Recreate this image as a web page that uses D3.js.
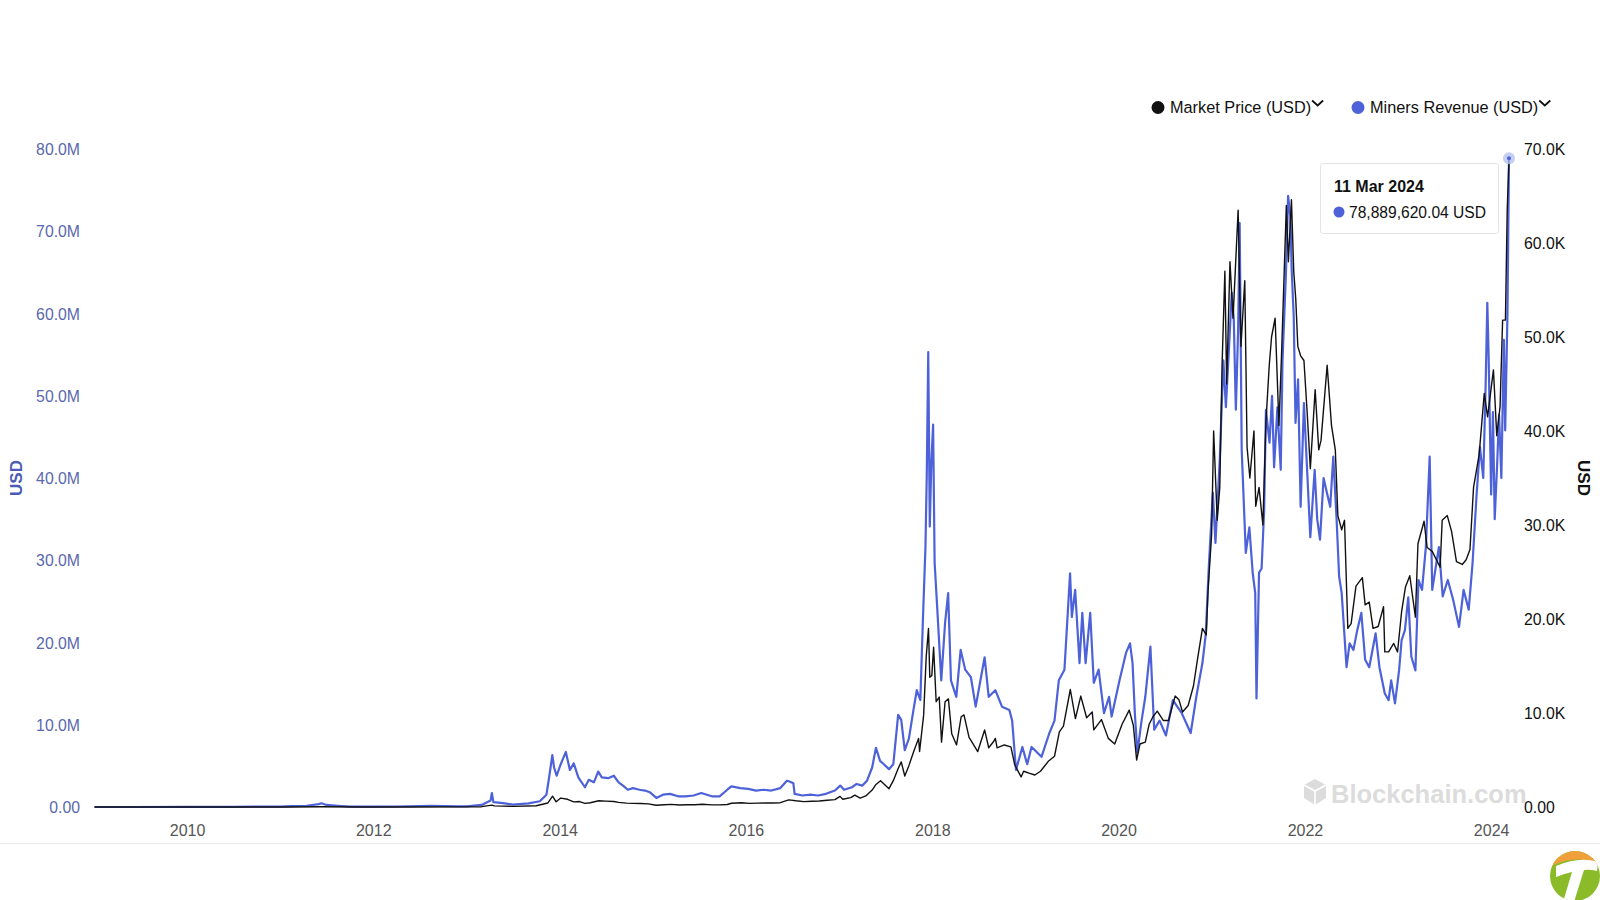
<!DOCTYPE html>
<html>
<head>
<meta charset="utf-8">
<script src="https://cdn.jsdelivr.net/npm/d3@7"></script>
<style>
  html, body { margin: 0; padding: 0; background: #ffffff; }
  svg { display: block; font-family: "Liberation Sans", Arial, Helvetica, sans-serif; }
</style>
</head>
<body>
<svg id="chart" width="1600" height="900"></svg>
<script>
// ---- DATA ----
// Miners Revenue, millions of USD per day
const minersRevenue = [
  ["2009-01-03",0],["2009-06-01",0],["2010-01-01",0.01],["2010-07-01",0.02],["2010-11-01",0.05],
  ["2011-01-01",0.05],["2011-02-15",0.1],["2011-04-15",0.15],["2011-06-01",0.35],["2011-06-12",0.45],
  ["2011-07-01",0.25],["2011-08-15",0.15],["2011-10-01",0.05],["2012-01-01",0.05],["2012-04-01",0.06],
  ["2012-08-15",0.15],["2012-11-28",0.08],["2013-01-01",0.07],["2013-03-01",0.25],["2013-04-05",0.8],
  ["2013-04-10",1.7],["2013-04-16",0.6],["2013-05-15",0.5],["2013-07-01",0.3],["2013-09-01",0.45],
  ["2013-10-15",0.7],["2013-11-10",1.5],["2013-11-20",3.5],["2013-12-03",6.3],["2013-12-10",4.8],
  ["2013-12-20",3.8],["2014-01-05",5.2],["2014-01-25",6.7],["2014-02-10",4.5],["2014-02-25",5.3],
  ["2014-03-15",3.6],["2014-04-10",2.4],["2014-04-25",3.3],["2014-05-15",3.0],["2014-06-01",4.3],
  ["2014-06-15",3.6],["2014-07-10",3.5],["2014-08-01",3.8],["2014-08-20",3.0],["2014-09-10",2.5],
  ["2014-09-25",2.1],["2014-10-15",2.3],["2014-11-10",2.1],["2014-12-01",2.0],["2014-12-20",1.8],
  ["2015-01-15",1.1],["2015-02-10",1.5],["2015-03-10",1.6],["2015-04-10",1.3],["2015-05-10",1.3],
  ["2015-06-10",1.4],["2015-07-10",1.7],["2015-08-20",1.3],["2015-09-20",1.3],["2015-10-20",2.1],
  ["2015-11-05",2.5],["2015-12-10",2.3],["2016-01-10",2.2],["2016-02-10",2.0],["2016-03-10",2.1],
  ["2016-04-10",2.0],["2016-05-15",2.3],["2016-06-10",3.2],["2016-06-20",3.1],["2016-07-05",2.9],
  ["2016-07-10",1.6],["2016-08-10",1.4],["2016-09-10",1.5],["2016-10-10",1.4],["2016-11-10",1.6],
  ["2016-12-15",2.0],["2017-01-05",2.6],["2017-01-20",2.1],["2017-02-20",2.4],["2017-03-10",2.8],
  ["2017-04-01",2.6],["2017-04-20",3.2],["2017-05-10",4.8],["2017-05-25",7.2],["2017-06-10",5.6],
  ["2017-06-25",5.2],["2017-07-15",4.6],["2017-08-01",5.2],["2017-08-20",11.2],["2017-09-01",10.6],
  ["2017-09-15",6.9],["2017-10-01",8.3],["2017-10-20",12.0],["2017-11-01",14.2],["2017-11-15",13.0],
  ["2017-11-25",22.7],["2017-12-05",31.6],["2017-12-10",40],["2017-12-16",55.3],["2017-12-22",34.1],
  ["2017-12-28",41.8],["2018-01-04",46.5],["2018-01-10",29.7],["2018-01-20",24.3],["2018-02-05",15.4],
  ["2018-02-20",22.4],["2018-03-04",26.0],["2018-03-15",15.4],["2018-04-05",13.4],["2018-04-22",19.1],
  ["2018-05-10",16.7],["2018-06-01",15.8],["2018-06-20",12.2],["2018-07-25",18.2],["2018-08-10",13.4],
  ["2018-09-05",14.2],["2018-10-01",12.2],["2018-10-30",11.8],["2018-11-10",10.5],["2018-11-25",4.5],
  ["2018-12-20",7.3],["2019-01-08",5.2],["2019-01-25",7.3],["2019-03-05",6.1],["2019-04-05",9.0],
  ["2019-04-25",10.5],["2019-05-12",15.4],["2019-06-03",16.7],["2019-06-25",28.4],["2019-07-02",23.1],
  ["2019-07-15",26.4],["2019-08-01",17.5],["2019-08-12",23.6],["2019-08-25",17.5],["2019-09-12",23.6],
  ["2019-09-26",15.1],["2019-10-15",16.7],["2019-11-05",11.4],["2019-11-25",13.4],["2019-12-05",11.0],
  ["2020-01-05",15.4],["2020-01-30",18.7],["2020-02-15",19.9],["2020-02-25",17.5],["2020-03-05",11.4],
  ["2020-03-15",6.6],["2020-03-30",10.2],["2020-04-15",13.4],["2020-05-05",19.5],["2020-05-20",9.4],
  ["2020-06-10",10.5],["2020-07-05",8.7],["2020-08-01",13.0],["2020-09-05",11.4],["2020-10-10",9.0],
  ["2020-11-01",13.4],["2020-11-25",17.5],["2020-12-08",21.0],["2020-12-20",29.2],["2021-01-05",38.2],
  ["2021-01-15",32.1],["2021-02-01",42.2],["2021-02-15",54.3],["2021-02-25",48.6],["2021-03-08",55.2],
  ["2021-03-20",62.5],["2021-03-28",59.2],["2021-04-05",48.3],["2021-04-14",58.0],["2021-04-20",71.0],
  ["2021-04-28",43.4],["2021-05-14",30.9],["2021-05-28",34.0],["2021-06-10",28.5],["2021-06-20",26.0],
  ["2021-06-25",13.2],["2021-07-05",28.5],["2021-07-15",29.0],["2021-07-25",36.1],["2021-08-01",48.3],
  ["2021-08-15",44.3],["2021-08-25",50.0],["2021-09-02",41.3],["2021-09-15",48.6],["2021-09-28",41.0],
  ["2021-10-05",54.3],["2021-10-18",64.5],["2021-10-27",74.3],["2021-11-05",71.7],["2021-11-10",65.3],
  ["2021-11-18",59.6],["2021-11-25",46.7],["2021-12-05",52.0],["2021-12-15",36.5],["2021-12-28",49.1],
  ["2022-01-10",40.6],["2022-01-22",32.8],["2022-02-08",41.0],["2022-02-18",35.0],["2022-03-01",32.5],
  ["2022-03-15",40.0],["2022-03-28",38.2],["2022-04-10",36.5],["2022-04-22",42.6],["2022-05-05",35.0],
  ["2022-05-15",28.0],["2022-05-25",26.0],["2022-06-13",17.0],["2022-06-25",19.9],["2022-07-10",19.1],
  ["2022-07-25",21.5],["2022-08-10",23.6],["2022-08-25",17.9],["2022-09-10",17.0],["2022-10-05",21.1],
  ["2022-10-20",17.0],["2022-11-10",13.8],["2022-11-25",13.0],["2022-12-05",15.4],["2022-12-20",12.6],
  ["2023-01-05",16.6],["2023-01-15",20.3],["2023-01-28",21.5],["2023-02-10",25.5],["2023-02-22",18.3],
  ["2023-03-10",16.6],["2023-03-22",27.6],["2023-04-05",26.4],["2023-04-20",31.6],["2023-05-05",42.6],
  ["2023-05-15",26.4],["2023-06-10",31.6],["2023-06-25",25.6],["2023-07-15",27.6],["2023-08-05",25.2],
  ["2023-08-28",21.9],["2023-09-15",26.4],["2023-10-05",24.0],["2023-10-20",29.6],["2023-11-05",38.0],
  ["2023-11-18",43.8],["2023-12-01",40.0],["2023-12-10",50.7],["2023-12-17",61.3],["2023-12-22",55.0],
  ["2024-01-01",38.0],["2024-01-08",48.0],["2024-01-15",35.0],["2024-01-25",42.0],["2024-02-01",47.7],
  ["2024-02-10",40.0],["2024-02-20",56.8],["2024-02-25",45.8],["2024-03-05",60.0],["2024-03-11",78.88962004]
];

// Market Price, thousands of USD
const marketPrice = [
  ["2009-01-03",0],["2010-07-17",0.00005],["2011-02-10",0.001],["2011-06-08",0.03],["2011-11-18",0.002],
  ["2012-06-01",0.005],["2012-12-31",0.0135],["2013-03-01",0.034],["2013-04-10",0.2],["2013-04-20",0.12],
  ["2013-07-05",0.07],["2013-10-01",0.13],["2013-11-15",0.42],["2013-12-04",1.15],["2013-12-18",0.55],
  ["2014-01-05",0.95],["2014-02-01",0.82],["2014-02-25",0.55],["2014-03-20",0.58],["2014-04-10",0.38],
  ["2014-05-01",0.45],["2014-06-03",0.67],["2014-07-01",0.63],["2014-08-01",0.59],["2014-08-20",0.49],
  ["2014-09-20",0.41],["2014-10-15",0.39],["2014-11-15",0.38],["2014-12-15",0.33],["2015-01-14",0.18],
  ["2015-02-15",0.24],["2015-03-15",0.28],["2015-04-15",0.22],["2015-05-15",0.24],["2015-06-15",0.24],
  ["2015-07-15",0.29],["2015-08-20",0.23],["2015-09-20",0.23],["2015-10-20",0.27],["2015-11-05",0.40],
  ["2015-12-15",0.45],["2016-01-15",0.39],["2016-02-15",0.41],["2016-03-15",0.42],["2016-04-15",0.43],
  ["2016-05-15",0.46],["2016-06-17",0.76],["2016-07-15",0.66],["2016-08-15",0.57],["2016-09-15",0.61],
  ["2016-10-15",0.64],["2016-11-15",0.72],["2016-12-15",0.78],["2017-01-04",1.13],["2017-01-15",0.82],
  ["2017-02-15",1.0],["2017-03-03",1.26],["2017-03-24",0.94],["2017-04-15",1.18],["2017-05-10",1.8],
  ["2017-05-25",2.4],["2017-06-12",2.8],["2017-07-15",1.95],["2017-08-01",2.8],["2017-08-20",4.1],
  ["2017-09-01",4.8],["2017-09-15",3.3],["2017-10-01",4.4],["2017-10-20",5.9],["2017-11-08",7.3],
  ["2017-11-12",5.9],["2017-11-28",9.8],["2017-12-08",16.0],["2017-12-17",19.0],["2017-12-22",13.8],
  ["2017-12-30",14.0],["2018-01-06",17.0],["2018-01-16",11.2],["2018-01-28",11.7],["2018-02-06",6.9],
  ["2018-02-20",11.2],["2018-03-05",11.5],["2018-03-18",7.8],["2018-04-06",6.6],["2018-04-24",9.6],
  ["2018-05-05",9.8],["2018-05-25",7.4],["2018-06-12",6.6],["2018-06-28",5.9],["2018-07-25",8.2],
  ["2018-08-10",6.3],["2018-08-30",7.0],["2018-09-05",7.3],["2018-09-12",6.3],["2018-10-10",6.6],
  ["2018-11-05",6.4],["2018-11-20",4.5],["2018-12-15",3.2],["2018-12-25",3.8],["2019-01-15",3.6],
  ["2019-02-07",3.4],["2019-03-01",3.8],["2019-04-02",4.9],["2019-04-25",5.4],["2019-05-14",8.0],
  ["2019-05-30",8.6],["2019-06-26",12.5],["2019-07-16",9.4],["2019-08-06",11.8],["2019-08-29",9.5],
  ["2019-09-20",10.1],["2019-09-26",8.2],["2019-10-26",9.3],["2019-11-22",7.3],["2019-12-17",6.7],
  ["2020-01-15",8.8],["2020-02-12",10.3],["2020-02-28",8.7],["2020-03-12",5.0],["2020-03-25",6.7],
  ["2020-04-15",6.9],["2020-04-30",8.8],["2020-05-15",9.6],["2020-06-01",10.2],["2020-06-25",9.2],
  ["2020-07-15",9.2],["2020-08-10",11.8],["2020-08-25",11.4],["2020-09-08",10.1],["2020-09-30",10.8],
  ["2020-10-21",12.9],["2020-11-05",15.6],["2020-11-25",19.0],["2020-12-10",18.3],["2020-12-17",23.0],
  ["2020-12-31",29.0],["2021-01-08",40.0],["2021-01-22",30.5],["2021-02-01",34.0],["2021-02-10",47.0],
  ["2021-02-21",57.0],["2021-02-28",45.0],["2021-03-13",58.0],["2021-03-25",52.0],["2021-04-14",63.5],
  ["2021-04-25",49.0],["2021-05-10",56.0],["2021-05-19",38.3],["2021-05-30",35.0],["2021-06-15",40.0],
  ["2021-06-22",32.0],["2021-07-05",34.0],["2021-07-20",30.0],["2021-08-01",41.0],["2021-08-14",47.0],
  ["2021-08-23",50.0],["2021-09-06",52.0],["2021-09-21",40.6],["2021-10-01",48.0],["2021-10-20",64.0],
  ["2021-10-28",58.0],["2021-11-09",64.6],["2021-11-18",57.0],["2021-11-26",54.0],["2021-12-04",49.0],
  ["2021-12-15",48.0],["2021-12-28",47.5],["2022-01-10",41.8],["2022-01-22",36.0],["2022-02-10",44.4],
  ["2022-02-24",38.0],["2022-03-05",39.0],["2022-03-29",47.0],["2022-04-15",40.6],["2022-04-30",38.0],
  ["2022-05-10",31.0],["2022-05-25",29.5],["2022-06-05",30.5],["2022-06-18",19.0],["2022-07-01",19.5],
  ["2022-07-20",23.5],["2022-08-14",24.4],["2022-08-25",21.5],["2022-09-10",21.8],["2022-09-25",19.0],
  ["2022-10-15",19.2],["2022-11-05",21.3],["2022-11-10",16.5],["2022-11-25",16.5],["2022-12-15",17.4],
  ["2022-12-30",16.5],["2023-01-15",20.8],["2023-01-30",23.4],["2023-02-16",24.6],["2023-03-10",20.2],
  ["2023-03-20",28.0],["2023-04-13",30.4],["2023-04-25",27.6],["2023-05-15",27.2],["2023-06-15",25.5],
  ["2023-06-23",30.5],["2023-07-13",31.0],["2023-07-30",29.3],["2023-08-18",26.1],["2023-09-10",25.8],
  ["2023-09-25",26.3],["2023-10-10",27.4],["2023-10-24",34.0],["2023-11-15",37.5],["2023-12-05",44.0],
  ["2023-12-18",41.5],["2024-01-10",46.5],["2024-01-23",39.5],["2024-02-05",42.6],["2024-02-15",51.8],
  ["2024-02-26",51.8],["2024-03-04",63.5],["2024-03-11",69.0]
];

const revenueTicks = [0, 10, 20, 30, 40, 50, 60, 70, 80];      // millions USD
const priceTicks = [0, 10, 20, 30, 40, 50, 60, 70];            // thousands USD
const yearTicks = [2010, 2012, 2014, 2016, 2018, 2020, 2022, 2024];
const seriesNames = ["Market Price (USD)", "Miners Revenue (USD)"];
const seriesColors = ["#111111", "#4d62d8"];
const tooltipDate = "11 Mar 2024";
const tooltipValue = "78,889,620.04 USD";

// ---- CHART ----
const FONT = "'Liberation Sans', Arial, sans-serif";
const parse = d3.timeParse("%Y-%m-%d");
const rev = minersRevenue.map(d => ({ date: parse(d[0]), v: d[1] }));
const price = marketPrice.map(d => ({ date: parse(d[0]), v: d[1] }));

const svg = d3.select("#chart");
const x = d3.scaleTime()
  .domain([parse("2009-01-03"), parse("2024-03-11")])
  .range([94.5, 1509]);
const yL = d3.scaleLinear().domain([0, 80]).range([807, 149]);
const yR = d3.scaleLinear().domain([0, 70]).range([807, 149]);

// bottom separator line
svg.append("line").attr("x1", 0).attr("x2", 1600).attr("y1", 843.5).attr("y2", 843.5)
  .attr("stroke", "#e8e8e8").attr("stroke-width", 1);

// Watermark
const wm = svg.append("g").attr("fill", "#dcdcdc");
wm.append("path").attr("d", "M1304,785 L1315,779 L1326,785 L1326,798 L1315,805 L1304,798 Z");
wm.append("path").attr("d", "M1304,785 L1315,791 L1326,785").attr("fill", "none").attr("stroke", "#ffffff").attr("stroke-width", 1.6);
wm.append("line").attr("x1", 1315).attr("x2", 1315).attr("y1", 791).attr("y2", 805).attr("stroke", "#fff").attr("stroke-width", 1.6);
wm.append("text").attr("x", 1331).attr("y", 802.5).attr("font-size", 25.5).attr("font-weight", "bold")
  .attr("font-family", FONT).text("Blockchain.com");

// X axis
const xAxis = d3.axisBottom(x)
  .tickValues(yearTicks.map(y => new Date(y, 0, 1)))
  .tickFormat(d3.timeFormat("%Y"))
  .tickSize(0).tickPadding(18);
const gx = svg.append("g").attr("transform", "translate(0,807)").call(xAxis);
gx.select(".domain").remove();
gx.selectAll("text").attr("font-size", 16).attr("fill", "#555555").attr("font-family", FONT);

// Left axis
const gl = svg.append("g").attr("transform", "translate(80,0)")
  .call(d3.axisLeft(yL).tickValues(revenueTicks).tickSize(0).tickPadding(0)
    .tickFormat(d => d === 0 ? "0.00" : d.toFixed(1) + "M"));
gl.select(".domain").remove();
gl.selectAll("text").attr("font-size", 15.8).attr("fill", "#5a68ad")
  .attr("font-family", FONT).attr("dy", "0.35em");

// Right axis
const gr = svg.append("g").attr("transform", "translate(1524,0)")
  .call(d3.axisRight(yR).tickValues(priceTicks).tickSize(0).tickPadding(0)
    .tickFormat(d => d === 0 ? "0.00" : d.toFixed(1) + "K"));
gr.select(".domain").remove();
gr.selectAll("text").attr("font-size", 15.8).attr("fill", "#111111")
  .attr("font-family", FONT).attr("dy", "0.35em");

// Axis titles
svg.append("text").attr("transform", "translate(22,478) rotate(-90)")
  .attr("text-anchor", "middle").attr("font-size", 17).attr("font-weight", "bold")
  .attr("font-family", FONT).attr("fill", "#4a5cb5").text("USD");
svg.append("text").attr("transform", "translate(1578,478) rotate(90)")
  .attr("text-anchor", "middle").attr("font-size", 17).attr("font-weight", "bold")
  .attr("font-family", FONT).attr("fill", "#111111").text("USD");

// Lines
const lineL = d3.line().x(d => x(d.date)).y(d => yL(d.v));
const lineR = d3.line().x(d => x(d.date)).y(d => yR(d.v));
svg.append("path").datum(rev).attr("d", lineL).attr("fill", "none")
  .attr("stroke", seriesColors[1]).attr("stroke-width", 2.2).attr("stroke-linejoin", "round");
svg.append("path").datum(price).attr("d", lineR).attr("fill", "none")
  .attr("stroke", seriesColors[0]).attr("stroke-width", 1.4).attr("stroke-linejoin", "round");

// Highlight last revenue point
const last = rev[rev.length - 1];
svg.append("circle").attr("cx", x(last.date)).attr("cy", yL(last.v)).attr("r", 6)
  .attr("fill", "#b7c2f0").attr("opacity", 0.8);
svg.append("circle").attr("cx", x(last.date)).attr("cy", yL(last.v)).attr("r", 2)
  .attr("fill", seriesColors[1]);

// Tooltip
const tt = svg.append("g").attr("font-family", FONT);
tt.append("rect").attr("x", 1320.5).attr("y", 163.5).attr("width", 178).attr("height", 70)
  .attr("fill", "#ffffff").attr("stroke", "#e4e4e4").attr("rx", 2);
tt.append("text").attr("x", 1334).attr("y", 191.5).attr("font-size", 16).attr("font-weight", "bold")
  .attr("fill", "#111").text(tooltipDate);
tt.append("circle").attr("cx", 1339).attr("cy", 212).attr("r", 5.5).attr("fill", seriesColors[1]);
tt.append("text").attr("x", 1349).attr("y", 217.5).attr("font-size", 15.6).attr("fill", "#111")
  .text(tooltipValue);

// Legend
const legendX = [1158, 1358];
seriesNames.forEach((name, i) => {
  const g = svg.append("g").attr("font-family", FONT);
  g.append("circle").attr("cx", legendX[i]).attr("cy", 107.5).attr("r", 6.5).attr("fill", seriesColors[i]);
  const t = g.append("text").attr("x", legendX[i] + 12).attr("y", 113).attr("font-size", 16.3)
    .attr("fill", "#111").text(name);
  const w = t.node().getComputedTextLength();
  const cx = legendX[i] + 12 + w + 1;
  g.append("path").attr("d", `M${cx},100.5 L${cx + 5.5},105.5 L${cx + 11},100.5`)
    .attr("fill", "none").attr("stroke", "#111").attr("stroke-width", 1.8);
});

// Corner logo
const defs = svg.append("defs");
defs.append("clipPath").attr("id", "logoClip").append("circle").attr("cx", 1575).attr("cy", 876).attr("r", 25);
const lg = svg.append("g").attr("clip-path", "url(#logoClip)");
lg.append("rect").attr("x", 1548).attr("y", 848).attr("width", 56).attr("height", 56).attr("fill", "#8cbb2a");
lg.append("path").attr("d", "M1548,848 L1604,848 L1604,866 Q1575,852 1548,868 Z").attr("fill", "#f0a03a");
lg.append("path").attr("d", "M1556,866 Q1580,856 1598,862 L1597,871 Q1590,869 1584,870 L1574,902 L1563,902 L1572,872 Q1563,874 1556,877 Z")
  .attr("fill", "#ffffff");
</script>
</body>
</html>
